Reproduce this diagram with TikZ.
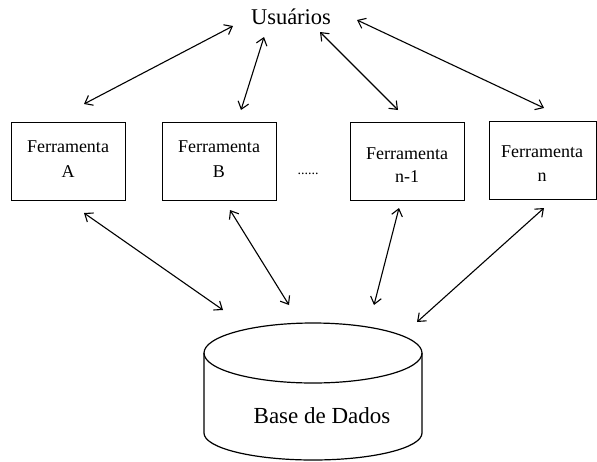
\documentclass[tikz,border=0pt]{standalone}
\usepackage{fontspec}
\setmainfont{Liberation Serif}
\usetikzlibrary{arrows.meta}
\begin{document}
\begin{tikzpicture}[x=1pt,y=-1pt,
  toolbox/.style={draw,line width=1.2pt,minimum width=114pt,minimum height=78pt,anchor=north west,inner sep=0pt},
  lbl/.style={font=\fontsize{18}{21}\selectfont,align=center},
  link/.style={line width=1.1pt,{Straight Barb[length=7pt,width=11pt]}-{Straight Barb[length=7pt,width=11pt]}}]
\useasboundingbox (0,0) rectangle (597,461);
\node[font=\fontsize{22.5}{26}\selectfont] (usr) at (291,17) {Usuários};
\node[toolbox] (A) at (11,122) {};
\node[toolbox] (B) at (162,122) {};
\node[toolbox] (N1) at (350,122) {};
\node[toolbox,minimum width=107pt] (N) at (489,121) {};
\node[lbl] at (68,147) {Ferramenta};
\node[lbl] at (68,172) {A};
\node[lbl] at (219,147) {Ferramenta};
\node[lbl] at (219,172) {B};
\node[lbl] at (407,154) {Ferramenta};
\node[lbl] at (407,177) {n-1};
\node[lbl] at (542,152) {Ferramenta};
\node[lbl] at (542,177) {n};
\node[font=\fontsize{14}{16}\selectfont] (dots) at (308,174) {......};
% cylinder
\draw[line width=1.2pt] (313,353) ellipse [x radius=109, y radius=30];
\draw[line width=1.2pt] (204,353) -- (204,433) arc[start angle=180,end angle=0,x radius=109,y radius=27] -- (422,353);
\node[font=\fontsize{23}{27}\selectfont] (db) at (322,416) {Base de Dados};
% endpoints
\coordinate (uA) at (233,26); \coordinate (tA) at (84,104);
\coordinate (uB) at (264,37); \coordinate (tB) at (241,110);
\coordinate (uN1) at (320,32); \coordinate (tN1) at (398,110);
\coordinate (uN) at (357,20); \coordinate (tN) at (544,108);
\coordinate (bA) at (84,213); \coordinate (dA) at (223,310);
\coordinate (bB) at (230,210); \coordinate (dB) at (289,305);
\coordinate (bN1) at (399,208); \coordinate (dN1) at (374,305);
\coordinate (bN) at (544,208); \coordinate (dN) at (417,322);
\draw[link] (uA) -- (tA);
\draw[link] (uB) -- (tB);
\draw[link] (uN1) -- (tN1);
\draw[link] (uN) -- (tN);
\draw[link] (bA) -- (dA);
\draw[link] (bB) -- (dB);
\draw[link] (bN1) -- (dN1);
\draw[link] (bN) -- (dN);
\end{tikzpicture}
\end{document}
